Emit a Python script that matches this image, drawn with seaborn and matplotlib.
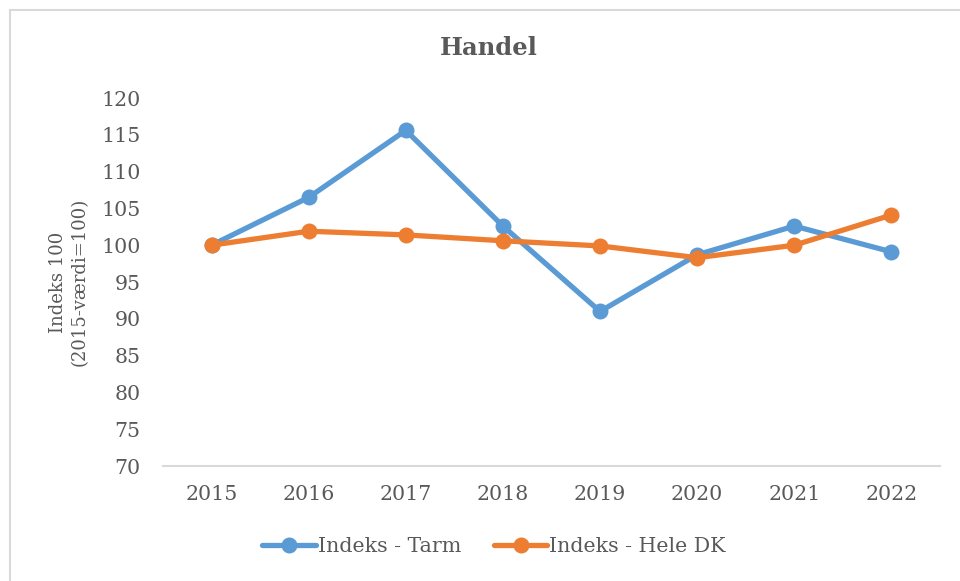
import matplotlib
matplotlib.use("Agg")
import matplotlib.pyplot as plt
from matplotlib.patches import Rectangle
import seaborn as sns
import pandas as pd

years = ["2015", "2016", "2017", "2018", "2019", "2020", "2021", "2022"]
tarm = [100.0, 106.5, 115.6, 102.6, 91.0, 98.7, 102.6, 99.1]
hele_dk = [100.0, 101.9, 101.4, 100.6, 99.9, 98.3, 100.0, 104.1]
series_names = ["Indeks - Tarm", "Indeks - Hele DK"]
y_ticks = [70, 75, 80, 85, 90, 95, 100, 105, 110, 115, 120]

df = pd.DataFrame({
    "år": years * 2,
    "indeks": tarm + hele_dk,
    "serie": [series_names[0]] * len(years) + [series_names[1]] * len(years),
})

sns.set_theme(style="white")
plt.rcParams["font.family"] = ["DejaVu Serif"]
text_color = "#595959"

fig = plt.figure(figsize=(9.6, 5.81), dpi=100)
ax = fig.add_axes([163 / 960, 1 - 466 / 581, (940 - 163) / 960, (466 - 98) / 581])

palette = {series_names[0]: "#5B9BD5", series_names[1]: "#ED7D31"}
sns.lineplot(data=df, x="år", y="indeks", hue="serie", palette=palette,
             marker="o", markersize=11.5, markeredgewidth=0, linewidth=3.8,
             sort=False, ax=ax, legend=False)

ax.set_ylim(70, 120)
ax.set_xlim(-0.5, len(years) - 0.5)
ax.set_yticks(y_ticks)
ax.set_yticklabels([str(t) for t in y_ticks])
ax.tick_params(axis="both", length=0, labelsize=14.8, colors=text_color)
ax.tick_params(axis="y", pad=16)
ax.tick_params(axis="x", pad=14)
for side in ["left", "right", "top"]:
    ax.spines[side].set_visible(False)
ax.spines["bottom"].set_color("#D9D9D9")
ax.spines["bottom"].set_linewidth(1.5)
ax.grid(False)

ax.set_xlabel("")
ax.set_ylabel("Indeks 100\n(2015-værdi=100)", fontsize=13, color=text_color,
              multialignment="center", labelpad=9, linespacing=1.3)

fig.text(489 / 960, 1 - 48 / 581, "Handel", ha="center", va="center",
         fontsize=17.5, fontweight="bold", color=text_color)

handles = [plt.Line2D([], [], color=palette[n], linewidth=3.8, marker="o",
                      markersize=11.5, markeredgewidth=0) for n in series_names]
fig.legend(handles, series_names, loc="center", bbox_to_anchor=(494 / 960, 1 - 547 / 581),
           ncol=2, frameon=False, fontsize=14.8, handlelength=2.6,
           handletextpad=0.1, columnspacing=1.6, labelcolor=text_color)

# chart-area border
fig.patches.append(Rectangle((9.5 / 960, -0.2), 1.2, 1.2 - 9.5 / 581,
                             transform=fig.transFigure, fill=False,
                             edgecolor="#D9D9D9", linewidth=1.5))

fig.savefig("out.png", dpi=100, facecolor="white")
